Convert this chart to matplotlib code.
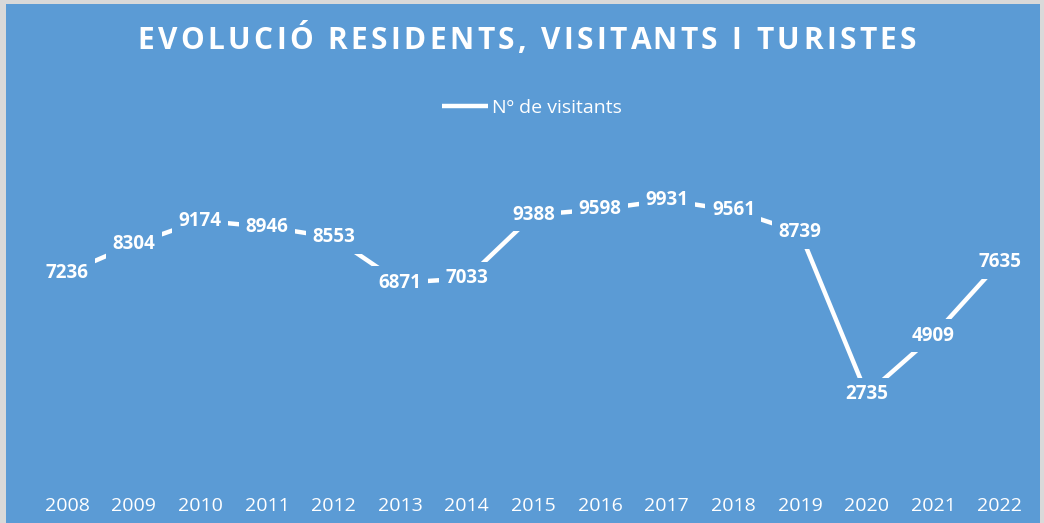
import matplotlib.pyplot as plt
from matplotlib.patches import Rectangle

years = [2008, 2009, 2010, 2011, 2012, 2013, 2014, 2015,
         2016, 2017, 2018, 2019, 2020, 2021, 2022]
visitants = [7236, 8304, 9174, 8946, 8553, 6871, 7033, 9388,
             9598, 9931, 9561, 8739, 2735, 4909, 7635]
title = 'EVOLUCIÓ RESIDENTS, VISITANTS I TURISTES'

BLUE = '#5B9BD5'
W, H = 1044, 523

plt.rcParams['font.family'] = ['Open Sans', 'DejaVu Sans']

fig = plt.figure(figsize=(W / 100, H / 100), dpi=100, facecolor='#D9D9D9')
# blue chart area inside a thin grey frame
fig.patches.append(Rectangle((6 / W, 0), (1040 - 6) / W, (H - 4) / H,
                             transform=fig.transFigure, facecolor=BLUE,
                             edgecolor='none', zorder=-1))

ax = fig.add_axes([33.7 / W, (H - 468) / H, (1033.3 - 33.7) / W, 323.5 / H])
ax.set_zorder(1)
ax.set_facecolor('none')
ax.plot(years, visitants, color='white', lw=3.2, solid_capstyle='butt',
        label='Nº de visitants', zorder=2)

for x, v in zip(years, visitants):
    ax.text(x, v, str(v), ha='center', va='center', color='white',
            fontsize=13.5, fontweight='bold', zorder=3,
            bbox=dict(boxstyle='square,pad=0.35', facecolor=BLUE,
                      edgecolor='none'))

ax.set_xlim(2007.5, 2022.5)
ax.set_ylim(0, 12000)
ax.set_xticks(years)
ax.set_xticklabels([str(y) for y in years])
ax.set_yticks([])
ax.tick_params(axis='x', length=0, pad=21, labelsize=14, labelcolor='white')
for s in ax.spines.values():
    s.set_visible(False)

# title with letter spacing, drawn one character at a time
renderer = fig.canvas.get_renderer()
tkw = dict(color='white', fontsize=21.5, fontweight='bold', va='center')


def text_w(s):
    t = fig.text(0, 0, s, **tkw)
    w = t.get_window_extent(renderer).width
    t.remove()
    return w


bar_w = text_w('|')
adv = [text_w(title[:i] + '|') - bar_w for i in range(len(title) + 1)]
track = 3.4
total = adv[-1] + track * (len(title) - 1)
x0 = 527 - total / 2
for i, c in enumerate(title):
    if c != ' ':
        fig.text((x0 + adv[i] + i * track) / W, 1 - 41 / H, c, ha='left', **tkw)

fig.legend(loc='center', bbox_to_anchor=(532 / W, 1 - 108 / H),
           frameon=False, fontsize=14, handlelength=2.4,
           handletextpad=0.2, labelcolor='white')

fig.savefig('out.png', dpi=100, facecolor=fig.get_facecolor())
